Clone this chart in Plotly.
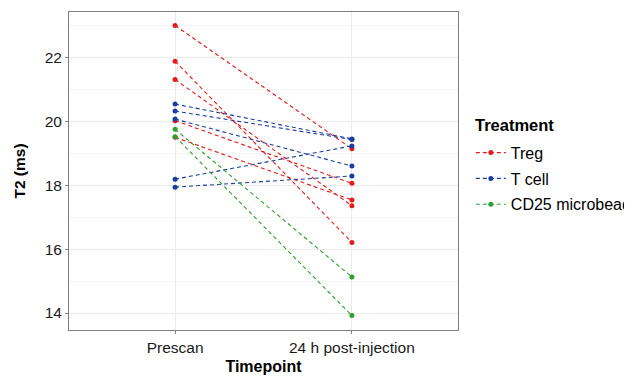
import plotly.graph_objects as go

timepoints = ["Prescan", "24 h post-injection"]
treg_pre = [23.0, 21.88, 21.31, 20.02, 19.50]
treg_post = [19.14, 16.21, 17.36, 18.06, 17.54]
tcell_pre = [20.54, 20.32, 20.07, 18.19, 17.94]
tcell_post = [19.45, 19.43, 18.60, 19.23, 18.29]
cd25_pre = [19.75, 19.52]
cd25_post = [15.13, 13.92]

groups = [
    ("Treg", treg_pre, treg_post, "#E41A1C"),
    ("T cell", tcell_pre, tcell_post, "#1C3C9E"),
    ("CD25 microbead", cd25_pre, cd25_post, "#2CA02C"),
]

fig = go.Figure()
for name, pre, post, col in groups:
    xs, ys = [], []
    for a, b in zip(pre, post):
        xs += [timepoints[0], timepoints[1], None]
        ys += [a, b, None]
    fig.add_trace(go.Scatter(
        x=xs, y=ys, mode="lines+markers", name=name, legendgroup=name,
        line=dict(color=col, width=1.1, dash="4px,3px"),
        marker=dict(color=col, size=5),
        connectgaps=False,
    ))

font = "Liberation Sans, Arial, sans-serif"
# page body has an 8px default margin, so the figure is sized to compensate
fig.update_layout(
    width=624, height=369,
    margin=dict(l=61, r=174, t=4, b=47, autoexpand=False),
    paper_bgcolor="white", plot_bgcolor="white",
    font=dict(family=font, size=15, color="#333333"),
    showlegend=True,
    legend=dict(
        x=1.033, y=0.611, xanchor="left", yanchor="top",
        font=dict(size=16, color="#000000"),
        tracegroupgap=2,
        itemwidth=30,
    ),
    annotations=[dict(
        text="<b>Treatment</b>", xref="paper", yref="paper",
        x=1.0386, y=0.6447, xanchor="left", yanchor="middle",
        showarrow=False, font=dict(size=16.5, color="#000000"),
    )],
)
fig.update_xaxes(
    type="category", categoryorder="array", categoryarray=timepoints,
    range=[-0.6, 1.6], automargin=False,
    showgrid=True, gridcolor="#EBEBEB", gridwidth=1,
    showline=True, linecolor="#7F7F7F", linewidth=1, mirror=True,
    ticks="outside", ticklen=3, tickcolor="#7F7F7F",
    tickfont=dict(size=15.5, color="#1A1A1A"),
    title=dict(text="<b>Timepoint</b>", font=dict(size=16, color="#000000"), standoff=6),
    zeroline=False,
)
fig.update_yaxes(
    range=[13.47, 23.42], dtick=2, tick0=14, automargin=False,
    showgrid=True, gridcolor="#EBEBEB", gridwidth=1,
    minor=dict(dtick=1, tick0=15, showgrid=True, gridcolor="#F5F5F5", gridwidth=1),
    showline=True, linecolor="#7F7F7F", linewidth=1, mirror=True,
    ticks="outside", ticklen=3, tickcolor="#7F7F7F",
    tickfont=dict(size=15.5, color="#1A1A1A"),
    title=dict(text="<b>T2 (ms)</b>", font=dict(size=15.5, color="#000000")),
    zeroline=False,
)
fig.write_html("out.html")
